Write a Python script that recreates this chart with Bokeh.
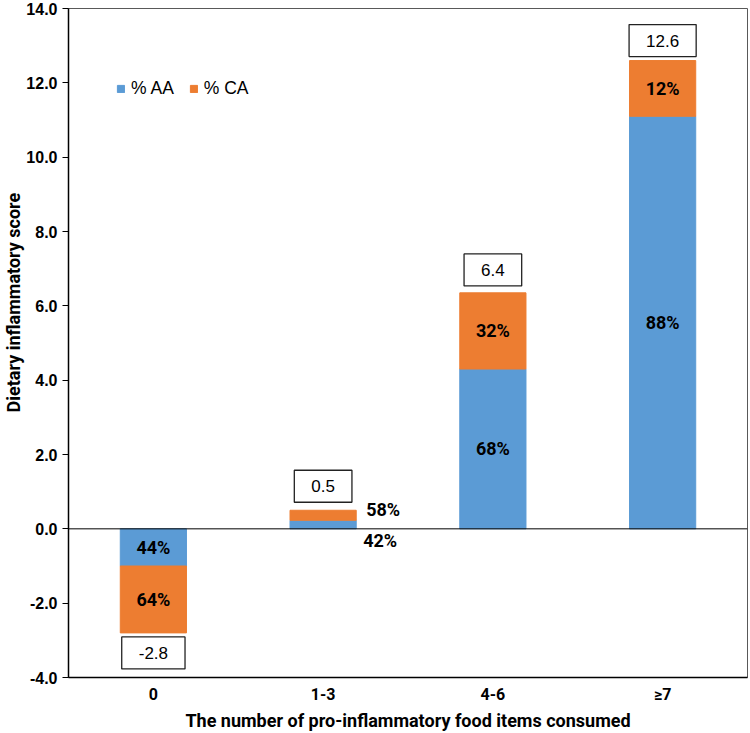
from bokeh.plotting import figure
from bokeh.models import (ColumnDataSource, LabelSet, Label, Span, FixedTicker,
                          NumeralTickFormatter, Range1d, FactorRange, Title)
from bokeh.core.properties import value
from bokeh.embed import file_html
from bokeh.resources import INLINE

# ---- data ----
categories = ["0", "1-3", "4-6", "≥7"]
aa_values = [-1.0, 0.23, 4.3, 11.1]
ca_values = [-1.8, 0.27, 2.05, 1.5]
total_values = [-2.8, 0.5, 6.4, 12.6]
total_labels = ["-2.8", "0.5", "6.4", "12.6"]
aa_pct = ["44%", "42%", "68%", "88%"]
ca_pct = ["64%", "58%", "32%", "12%"]
y_ticks = [-4, -2, 0, 2, 4, 6, 8, 10, 12, 14]

# ---- styles ----
BLUE = "#5B9BD5"
ORANGE = "#ED7D31"
NARROW = "Roboto"
SANS = "Liberation Sans"
aa_x_off = [0, 57, 0, 0]
aa_y_off = [0, -16, 0, 0]
ca_x_off = [0, 60, 0, 0]
ca_y_off = [0, 6, 0, 0]
box_y_off = [-20, 24, 21, 20]

src = ColumnDataSource(dict(cat=categories, aa=aa_values, ca=ca_values))

xr = FactorRange(*categories, range_padding=0)
p = figure(x_range=xr,
           y_range=Range1d(-4, 14),
           width=750, height=733,
           output_backend="svg", toolbar_location=None,
           min_border_left=68, min_border_right=3,
           min_border_top=8, min_border_bottom=53)

p.vbar_stack(["aa", "ca"], x="cat", width=0.39, source=src,
             fill_color=[BLUE, ORANGE], line_color=[BLUE, ORANGE],
             legend_label=["% AA", "% CA"])

p.add_layout(Span(location=0, dimension="width", line_color="black", line_width=1))

# percentage labels
aa_mid = [a / 2 for a in aa_values]
ca_mid = [a + c / 2 for a, c in zip(aa_values, ca_values)]
lab_src = ColumnDataSource(dict(cat=categories, aa_mid=aa_mid, ca_mid=ca_mid,
                                aa_pct=aa_pct, ca_pct=ca_pct,
                                aa_xo=aa_x_off, aa_yo=aa_y_off,
                                ca_xo=ca_x_off, ca_yo=ca_y_off))
for y, t, xo, yo in [("aa_mid", "aa_pct", "aa_xo", "aa_yo"),
                     ("ca_mid", "ca_pct", "ca_xo", "ca_yo")]:
    p.add_layout(LabelSet(x="cat", y=y, text=t, source=lab_src,
                          x_offset=xo, y_offset=yo,
                          text_align="center", text_baseline="middle",
                          text_font=value(NARROW), text_font_style="bold",
                          text_font_size="18px", text_color="black"))

# total value boxes (factor i sits at synthetic coordinate i + 0.5)
for i, (tot, lab, yo) in enumerate(zip(total_values, total_labels, box_y_off)):
    p.add_layout(Label(x=i + 0.5, y=tot, text=lab, y_offset=yo,
                       text_align="center", text_baseline="middle",
                       text_font=SANS, text_font_size="17px", text_color="black",
                       background_fill_color="white",
                       border_line_color="#222222", border_line_width=1.3,
                       padding=dict(left=17, right=17, top=10, bottom=10)))

# axes
p.xgrid.visible = False
p.ygrid.visible = False
p.outline_line_color = "#595959"
p.outline_line_width = 1

p.yaxis.ticker = FixedTicker(ticks=y_ticks)
p.yaxis.formatter = NumeralTickFormatter(format="0.0")
p.yaxis.major_label_text_font = SANS
p.yaxis.major_label_text_font_style = "bold"
p.yaxis.major_label_text_font_size = "16px"
p.yaxis.major_label_text_color = "black"
p.yaxis.major_tick_out = 6
p.yaxis.major_tick_in = 0
p.yaxis.minor_tick_out = 0
p.yaxis.minor_tick_in = 0
p.yaxis.major_label_standoff = 5
p.yaxis.axis_line_color = "black"
p.yaxis.axis_line_width = 1.5
p.yaxis.major_tick_line_color = "black"

# y title as a left-side title, shifted up like the original
p.add_layout(Title(text="Dietary inflammatory score", align="left", offset=265,
                   text_font=NARROW, text_font_style="bold", text_font_size="18px",
                   text_color="black", standoff=0), "left")

p.xaxis.major_tick_out = 0
p.xaxis.major_tick_in = 0
p.xaxis.major_label_standoff = 7
p.xaxis.major_label_text_font = NARROW
p.xaxis.major_label_text_font_style = "bold"
p.xaxis.major_label_text_font_size = "16px"
p.xaxis.major_label_text_color = "black"
p.xaxis.axis_line_color = "black"
p.xaxis.axis_line_width = 1.5
p.xaxis.axis_label = "The number of pro-inflammatory food items consumed"
p.xaxis.axis_label_text_font = NARROW
p.xaxis.axis_label_text_font_style = "bold"
p.xaxis.axis_label_text_font_size = "18px"
p.xaxis.axis_label_text_color = "black"
p.xaxis.axis_label_standoff = 3

# legend
lg = p.legend[0]
lg.orientation = "horizontal"
lg.location = (48, 578)
lg.border_line_color = None
lg.background_fill_alpha = 0
lg.padding = 0
lg.margin = 0
lg.spacing = 15
lg.glyph_width = 9
lg.glyph_height = 9
lg.label_standoff = 6
lg.label_text_font = SANS
lg.label_text_font_size = "17.5px"
lg.label_text_color = "black"

open("out.html", "w").write(file_html(p, INLINE))
